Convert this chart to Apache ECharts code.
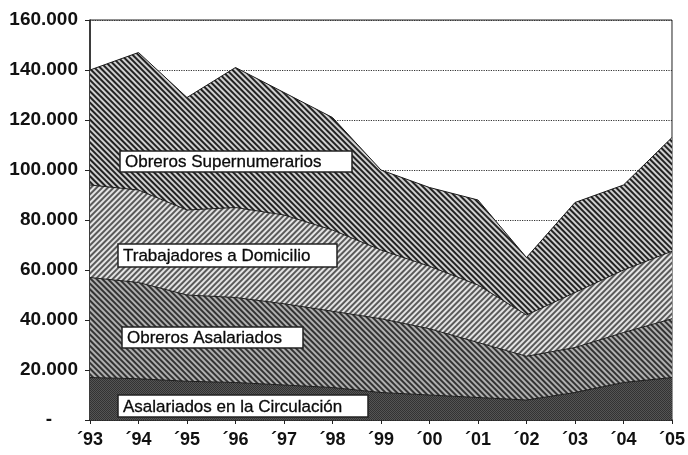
<!DOCTYPE html>
<html>
<head>
<meta charset="utf-8">
<script src="https://cdn.jsdelivr.net/npm/echarts@6/dist/echarts.min.js"></script>
<style>
html,body{margin:0;padding:0;background:#fff;}
#chart{width:688px;height:455px;}
</style>
</head>
<body>
<div id="chart"></div>
<script>
// Categories (years)
const years = ["´93","´94","´95","´96","´97","´98","´99","´00","´01","´02","´03","´04","´05"];
// Series values (persons), stacked bottom to top
const asalariadosCirculacion = [17000,16500,15500,15000,14000,13000,11000,10000,9000,8000,11000,15000,17000];
const obrerosAsalariados     = [40000,38500,34500,34000,32500,30500,29500,26500,22000,17500,18000,20000,23500];
const trabajadoresDomicilio  = [37000,37000,34000,36000,35500,32500,27500,25000,23000,16500,22000,25000,27000];
const obrerosSupernumerarios = [46000,55000,45000,56000,49000,45000,32000,31500,34000,23000,36000,34000,45500];
// Series names
const seriesNames = ["Asalariados en la Circulación","Obreros Asalariados","Trabajadores a Domicilio","Obreros Supernumerarios"];
// Y axis range
const yMax = 160000, yStep = 20000;

const chart = echarts.init(document.getElementById('chart'), null, {renderer:'canvas'});

function fmtY(v){
  if (v === 0) return '{d|-}';
  return (v/1000) + '.000';
}

function areaSeries(name, data, fill, decal){
  return {
    name: name,
    type: 'line',
    stack: 'total',
    data: data,
    symbol: 'none',
    smooth: false,
    lineStyle: {color:'#1a1a1a', width:1},
    itemStyle: {color: fill, decal: decal},
    areaStyle: {color: fill, opacity: 1},
    z: 2
  };
}

// Label boxes for each layer (layout only)
const boxes = [
  {text: seriesNames[3], x: 120, y: 151, w: 232, h: 21},
  {text: seriesNames[2], x: 118, y: 244, w: 219, h: 23},
  {text: seriesNames[1], x: 122, y: 327, w: 181, h: 21},
  {text: seriesNames[0], x: 118, y: 395, w: 250, h: 22}
];

const graphics = [];
boxes.forEach(b => {
  graphics.push({
    type: 'rect', z: 100, x: b.x, y: b.y,
    shape: {x: 0, y: 0, width: b.w, height: b.h},
    style: {fill: '#ffffff', stroke: '#222', lineWidth: 1.5}
  });
  graphics.push({
    type: 'text', z: 101, x: b.x + 5, y: b.y + b.h/2 + 1,
    style: {text: b.text, fill: '#0a0a0a', fontFamily: 'Liberation Sans', fontSize: 17, verticalAlign: 'middle', align: 'left',
            stroke: '#0a0a0a', lineWidth: 0.3}
  });
});

const option = {
  animation: false,
  backgroundColor: '#ffffff',
  grid: {left: 90, right: 4, top: 20, bottom: 35, show: true, borderColor: '#222', borderWidth: 1},
  xAxis: {
    type: 'category',
    data: years,
    boundaryGap: false,
    axisLine: {show: true, lineStyle: {color: '#222', width: 1.5}},
    axisTick: {show: true, length: 4, lineStyle: {color: '#222'}},
    axisLabel: {color: '#111', fontFamily: 'Liberation Sans', fontWeight: 'bold', fontSize: 18, margin: 11},
    splitLine: {show: false}
  },
  yAxis: {
    type: 'value',
    min: 0, max: yMax, interval: yStep,
    axisLine: {show: true, lineStyle: {color: '#222', width: 1.5}},
    axisTick: {show: true, length: 5, lineStyle: {color: '#222'}},
    axisLabel: {
      color: '#111', fontFamily: 'Liberation Sans', fontWeight: 'bold', fontSize: 19, margin: 12,
      formatter: fmtY,
      rich: {d: {fontFamily: 'Liberation Sans', fontWeight: 'bold', fontSize: 19, color: '#111', padding: [0, 26, 0, 0]}}
    },
    splitLine: {show: true, lineStyle: {color: '#333', type: 'dotted', width: 1.2}}
  },
  series: [
    areaSeries(seriesNames[0], asalariadosCirculacion, '#333333',
      {symbol:'rect', symbolSize:1, dashArrayX:[[1,1],[0,1,1,0]], dashArrayY:[1,0], color:'#555'}),
    areaSeries(seriesNames[1], obrerosAsalariados, '#b0b0b0',
      {symbol:'rect', symbolSize:1, dashArrayX:[1,0], dashArrayY:[2,2], rotation: Math.PI/4, color:'#333'}),
    areaSeries(seriesNames[2], trabajadoresDomicilio, '#e4e4e4',
      {symbol:'rect', symbolSize:1, dashArrayX:[1,0], dashArrayY:[2,2], rotation: -Math.PI/4, color:'#5a5a5a'}),
    areaSeries(seriesNames[3], obrerosSupernumerarios, '#d0d0d0',
      {symbol:'rect', symbolSize:1, dashArrayX:[1,0], dashArrayY:[2,2], rotation: Math.PI/4, color:'#222'})
  ],
  graphic: graphics
};

chart.setOption(option);
</script>
</body>
</html>
